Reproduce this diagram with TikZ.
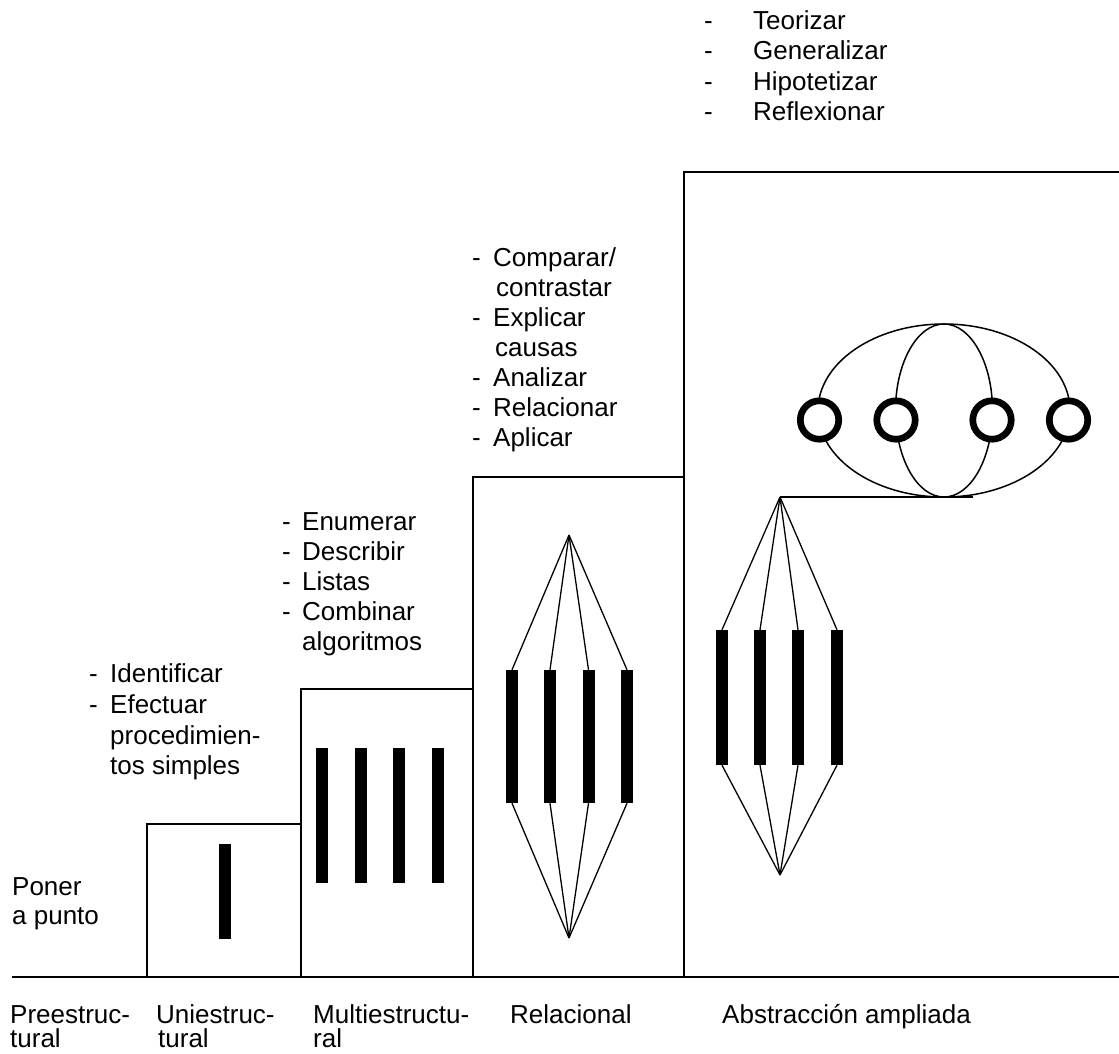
\documentclass[tikz,border=0pt]{standalone}
\usepackage{fontspec}
\setmainfont{Liberation Sans}
\newcommand\dashitem[2]{\makebox[#1][l]{-}#2}
\begin{document}
\begin{tikzpicture}[x=1pt,y=-1pt,
  lbl/.style={anchor=base west, inner sep=0pt, font=\fontsize{26}{30}\selectfont},
  bar/.style={fill=black, draw=none, minimum width=12pt, inner sep=0pt},
  stair/.style={line width=1.5pt},
  baseln/.style={line width=2.2pt},
  fan/.style={line width=1.3pt},
  ell/.style={line width=1.5pt},
  ring/.style={circle, draw=black, fill=white, line width=6.7pt, minimum size=38.4pt, inner sep=0pt}]
\useasboundingbox (0,0) rectangle (1119,1053);

% ground line
\coordinate (g0) at (12,977);
\coordinate (g1) at (1119,977);
\draw[baseln] (g0) -- (g1);

% staircase of levels
\coordinate (s1a) at (147,977); \coordinate (s1b) at (147,824); \coordinate (s1c) at (301,824);
\coordinate (s2a) at (301,977); \coordinate (s2b) at (301,689); \coordinate (s2c) at (473,689);
\coordinate (s3a) at (473,977); \coordinate (s3b) at (473,477); \coordinate (s3c) at (684,477);
\coordinate (s4a) at (684,977); \coordinate (s4b) at (684,172); \coordinate (s4c) at (1119,172);
\draw[stair] (s1a) -- (s1b) -- (s1c);
\draw[stair] (s2a) -- (s2b) -- (s2c);
\draw[stair] (s3a) -- (s3b) -- (s3c);
\draw[stair] (s4a) -- (s4b) -- (s4c);

% uniestructural
\node[bar, minimum height=95pt] (u1) at (224.5,891.5) {};

% multiestructural
\foreach \x [count=\i] in {322,360.5,399,438}
  \node[bar, minimum height=135pt] (m\i) at (\x,815.5) {};

% relacional
\foreach \x [count=\i] in {512,550,588.5,627}
  \node[bar, minimum height=133pt] (r\i) at (\x,736.5) {};
\coordinate (rt) at (569,535);
\coordinate (rb) at (569,938);
\foreach \i in {1,...,4} \draw[fan] (rt) -- (r\i.north) (rb) -- (r\i.south);

% abstraccion ampliada
\foreach \x [count=\i] in {722,760,798,837}
  \node[bar, minimum height=135pt] (a\i) at (\x,697.5) {};
\coordinate (at) at (780,497);
\coordinate (ab) at (780,875);
\coordinate (hl) at (973,497);
\foreach \i in {1,...,4} \draw[fan] (at) -- (a\i.north) (ab) -- (a\i.south);
\draw[fan] (at) -- (hl);
\draw[ell] (944,410.5) ellipse [x radius=126pt, y radius=86.5pt];
\draw[ell] (944,410.5) ellipse [x radius=48.5pt, y radius=86.5pt];
\foreach \x [count=\i] in {819.5,896,992,1068.5}
  \node[ring] (c\i) at (\x,420) {};

% verb lists
\foreach \t [count=\i] in {Teorizar,Generalizar,Hipotetizar,Reflexionar}
  \node[lbl] (tl\i) at (704,{29+30.5*(\i-1)}) {\dashitem{49pt}{\t}};

\node[lbl] (rl1) at (472,266) {\dashitem{21pt}{Comparar/}};
\node[lbl] (rl2) at (472,296) {\hspace{24pt}contrastar};
\node[lbl] (rl3) at (472,326) {\dashitem{21pt}{Explicar}};
\node[lbl] (rl4) at (472,356) {\hspace{23pt}causas};
\node[lbl] (rl5) at (472,386) {\dashitem{21pt}{Analizar}};
\node[lbl] (rl6) at (472,416) {\dashitem{21pt}{Relacionar}};
\node[lbl] (rl7) at (472,446) {\dashitem{21pt}{Aplicar}};

\node[lbl] (ml1) at (282,530) {\dashitem{20pt}{Enumerar}};
\node[lbl] (ml2) at (282,560) {\dashitem{20pt}{Describir}};
\node[lbl] (ml3) at (282,590) {\dashitem{20pt}{Listas}};
\node[lbl] (ml4) at (282,620) {\dashitem{20pt}{Combinar}};
\node[lbl] (ml5) at (282,650) {\hspace{20pt}algoritmos};

\node[lbl] (ul1) at (89,682) {\dashitem{21pt}{Identificar}};
\node[lbl] (ul2) at (89,713) {\dashitem{21pt}{Efectuar}};
\node[lbl] (ul3) at (89,744) {\hspace{21pt}procedimien-};
\node[lbl] (ul4) at (89,774) {\hspace{21pt}tos simples};

\node[lbl] (pl1) at (12,895) {Poner};
\node[lbl] (pl2) at (12,924) {a punto};

% level names
\node[lbl] (n1a) at (10,1023) {Preestruc-};
\node[lbl] (n1b) at (10,1047) {tural};
\node[lbl] (n2a) at (156,1023) {Uniestruc-};
\node[lbl] (n2b) at (158,1047) {tural};
\node[lbl] (n3a) at (313,1023) {Multiestructu-};
\node[lbl] (n3b) at (313,1047) {ral};
\node[lbl] (n4) at (510,1023) {Relacional};
\node[lbl] (n5) at (722,1023) {Abstracción ampliada};
\end{tikzpicture}
\end{document}
